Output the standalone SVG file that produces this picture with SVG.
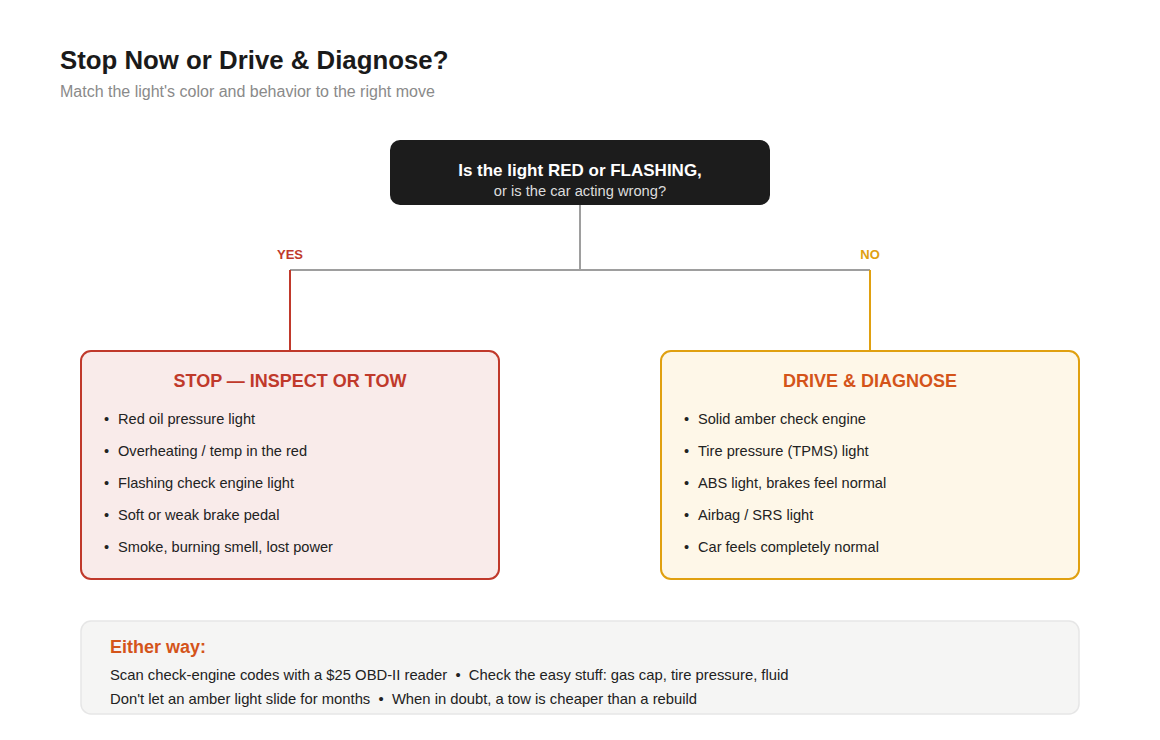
<svg xmlns="http://www.w3.org/2000/svg" width="1160" height="740" viewBox="0 0 1160 740">
<style>
text{font-family:"Liberation Sans",Arial,sans-serif}
.title{font-size:25.8px;font-weight:bold;fill:#1a1a1a}
.sub{font-size:16px;fill:#8a8a8a}
.q1{font-size:17px;font-weight:bold;fill:#fff}
.q2{font-size:14.7px;fill:#dcdcdc}
.lbl{font-size:13px;font-weight:bold}
.bt{font-size:18px;font-weight:bold}
.item{font-size:14.6px;fill:#222}
.foot{font-size:14.8px;fill:#222;white-space:pre}
.conn{fill:none;stroke-width:2}
</style>
<rect width="1160" height="740" fill="#fff"/>
<text class="title" x="60" y="69">Stop Now or Drive &amp; Diagnose?</text>
<text class="sub" x="60" y="97">Match the light's color and behavior to the right move</text>

<g id="connectors">
<path class="conn" stroke="#9e9e9e" d="M580 205 V270 M290 270 H870"/>
<path class="conn" stroke="#c0392b" d="M290 270 V351"/>
<path class="conn" stroke="#e0a010" d="M870 270 V351"/>
<text class="lbl" x="290" y="259" text-anchor="middle" fill="#c0392b">YES</text>
<text class="lbl" x="870" y="259" text-anchor="middle" fill="#e0a010">NO</text>
</g>

<g id="question">
<rect x="390" y="140" width="380" height="65" rx="10" fill="#1c1c1c"/>
<text class="q1" x="580" y="176" text-anchor="middle">Is the light RED or FLASHING,</text>
<text class="q2" x="580" y="196" text-anchor="middle">or is the car acting wrong?</text>
</g>

<g id="stop">
<rect x="81" y="351" width="418" height="228" rx="10" fill="#f9ebea" stroke="#c0392b" stroke-width="2"/>
<text class="bt" x="290" y="387" text-anchor="middle" fill="#c0392b">STOP — INSPECT OR TOW</text>
<g class="item">
<text x="104" y="424">•</text><text x="118" y="424">Red oil pressure light</text>
<text x="104" y="456">•</text><text x="118" y="456">Overheating / temp in the red</text>
<text x="104" y="488">•</text><text x="118" y="488">Flashing check engine light</text>
<text x="104" y="520">•</text><text x="118" y="520">Soft or weak brake pedal</text>
<text x="104" y="552">•</text><text x="118" y="552">Smoke, burning smell, lost power</text>
</g>
</g>

<g id="drive">
<rect x="661" y="351" width="418" height="228" rx="10" fill="#fef7e8" stroke="#e0a010" stroke-width="2"/>
<text class="bt" x="870" y="387" text-anchor="middle" fill="#d4541a">DRIVE &amp; DIAGNOSE</text>
<g class="item">
<text x="684" y="424">•</text><text x="698" y="424">Solid amber check engine</text>
<text x="684" y="456">•</text><text x="698" y="456">Tire pressure (TPMS) light</text>
<text x="684" y="488">•</text><text x="698" y="488">ABS light, brakes feel normal</text>
<text x="684" y="520">•</text><text x="698" y="520">Airbag / SRS light</text>
<text x="684" y="552">•</text><text x="698" y="552">Car feels completely normal</text>
</g>
</g>

<g id="either">
<rect x="81" y="621" width="998" height="93" rx="10" fill="#f5f5f4" stroke="#e6e6e6" stroke-width="1.5"/>
<text x="110" y="653" font-size="18" font-weight="bold" fill="#d4541a">Either way:</text>
<text class="foot" x="110" y="680" xml:space="preserve">Scan check-engine codes with a $25 OBD-II reader  •  Check the easy stuff: gas cap, tire pressure, fluid</text>
<text class="foot" x="110" y="704" xml:space="preserve">Don't let an amber light slide for months  •  When in doubt, a tow is cheaper than a rebuild</text>
</g>
</svg>
